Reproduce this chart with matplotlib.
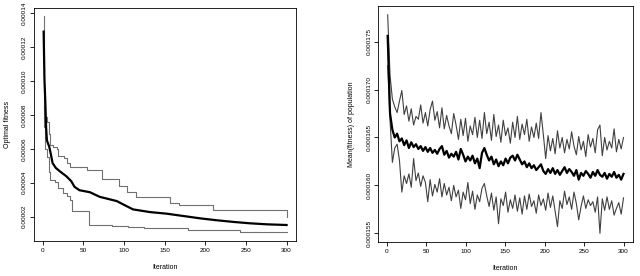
import numpy as np
import matplotlib
matplotlib.use('Agg')
import matplotlib.pyplot as plt

plt.rcParams['font.family'] = ['Liberation Sans', 'DejaVu Sans']

# left panel: best fitness, step curves (iteration, value in 1e-5)
upper_it = [1, 2, 3, 5, 7, 9, 13, 17, 19, 26, 30, 34, 54, 73, 94, 103, 115, 156, 167, 210, 299, 300]
upper_val = [13.8, 8.3, 7.9, 7.6, 6.9, 6.2, 6.1, 6.0, 5.6, 5.43, 5.14, 4.94, 4.75, 4.2, 3.83,
             3.44, 3.15, 2.8, 2.66, 2.41, 2.41, 1.98]

mid_it = [1, 2, 3, 4, 5, 8, 10, 12, 16, 21, 29, 35, 39, 45, 58, 70, 91, 99, 111, 132, 152,
          173, 194, 214, 235, 255, 276, 300]
mid_val = [12.9, 10.1, 8.87, 7.3, 6.5, 6.1, 5.65, 5.16, 4.87, 4.67, 4.38, 4.09, 3.76, 3.56,
           3.44, 3.17, 2.92, 2.72, 2.43, 2.27, 2.18, 2.04, 1.90, 1.79, 1.69, 1.61, 1.55, 1.51]

lower_it = [1, 2, 3, 5, 7, 9, 15, 19, 25, 30, 34, 36, 57, 85, 105, 124, 179, 243, 300]
lower_val = [8.5, 7.3, 6.0, 5.5, 4.65, 4.16, 4.06, 3.68, 3.4, 3.19, 3.0, 2.35, 1.53, 1.48, 1.40,
             1.34, 1.20, 1.08, 1.08]

left_ticks = [2, 4, 6, 8, 10, 12, 14]

# right panel: mean fitness of population, every 3rd iteration (value in 1e-6)
r_upper = [177.8, 171.5, 169.0, 168.2, 167.6, 168.8, 169.9, 167.4, 168.3, 166.7, 168.0, 166.3,
           167.2, 166.9, 168.4, 166.5, 167.6, 166.2, 167.9, 168.8, 166.8, 167.7, 166.0, 168.1,
           165.9, 167.3, 166.2, 165.4, 167.5, 166.3, 164.8, 166.9, 165.2, 167.0, 164.6, 166.2,
           165.3, 167.1, 165.0, 166.8, 164.9, 167.6, 165.4, 166.6, 164.7, 167.4, 165.1, 166.3,
           164.5, 166.8, 165.2, 166.0, 164.4, 166.6, 165.0, 167.2, 164.8, 166.4, 165.3, 166.9,
           164.6, 166.1, 165.0, 166.5, 164.9, 167.6, 165.3, 162.8, 165.2, 163.6, 164.9, 163.3,
           165.7, 163.9, 165.0, 163.4, 164.8, 163.8, 165.6, 164.1, 163.2, 165.1, 163.7, 164.6,
           163.0, 165.3, 164.0, 164.9, 163.4, 165.8, 166.3, 163.1, 165.0, 163.7, 164.6, 163.9,
           165.9, 163.5, 164.8, 163.8, 165.0]
r_mid = [175.6, 167.5, 165.8, 165.0, 165.4, 164.6, 164.9, 164.2, 164.7, 163.9, 164.5, 164.0,
         164.3, 163.8, 164.1, 163.6, 164.0, 163.5, 163.9, 163.4, 163.7, 163.3, 163.8, 164.1,
         163.2, 163.6, 162.9, 163.3, 163.0, 163.5, 162.7, 163.8, 163.2, 162.5, 163.0, 162.6,
         163.1, 162.3, 162.8, 161.8, 163.4, 163.9, 163.2, 162.6, 163.0, 162.2, 162.7, 162.0,
         162.5, 162.1, 162.8, 162.3, 162.9, 163.1, 162.6, 163.2, 162.7, 162.2, 162.5, 161.9,
         162.3, 161.8, 162.1, 161.6, 161.9, 162.2, 161.5, 161.2, 161.7, 161.3, 161.8, 161.2,
         161.6, 161.1, 161.5, 161.9, 161.3, 161.7, 161.4, 161.0, 161.6, 160.6, 161.3, 161.0,
         161.5, 161.2, 160.8, 161.4, 161.0, 161.6, 161.1, 160.9, 161.3, 160.7, 161.2, 160.9,
         161.4, 160.8, 161.1, 160.6, 161.2]
r_lower = [172.5, 166.8, 162.4, 163.9, 164.3, 162.6, 159.3, 161.0, 160.2, 161.2, 159.8, 162.8,
           160.5, 161.3, 159.9, 161.0, 160.3, 158.3, 160.6, 158.9, 160.1, 159.3, 160.7, 158.8,
           160.2, 159.0, 159.8, 158.4, 160.0, 158.8, 159.5, 157.6, 159.3, 158.5, 160.3, 158.1,
           159.4, 157.5, 159.0, 158.3, 159.7, 160.2, 158.9, 157.8, 159.2, 157.4, 158.8, 156.0,
           158.6, 157.9, 159.3, 157.2, 158.5, 157.6, 159.0, 157.3, 158.7, 157.0, 158.9, 157.5,
           159.1, 157.8, 158.4, 157.1, 159.0, 157.9, 158.6, 157.4, 159.2, 157.7, 158.9, 157.3,
           155.7, 158.4, 157.6, 159.4, 158.0, 158.8, 157.5, 159.3, 158.1, 156.4, 157.8, 158.9,
           157.6, 158.5, 157.9, 158.3, 157.2, 158.8, 155.0, 158.6, 157.4, 158.8, 157.5, 158.4,
           156.9, 157.6, 158.2, 157.0, 158.7]

right_ticks = [155, 160, 165, 170, 175]
x_ticks = [0, 50, 100, 150, 200, 250, 300]

fig = plt.figure(figsize=(6.4, 2.76), dpi=100)
ax1 = fig.add_axes([0.053, 0.127, 0.41, 0.845])
ax2 = fig.add_axes([0.591, 0.123, 0.398, 0.855])

ax1.plot(upper_it, np.array(upper_val) * 1e-5, color='#707070', lw=0.8, drawstyle='steps-post')
ax1.plot(lower_it, np.array(lower_val) * 1e-5, color='#707070', lw=0.8, drawstyle='steps-post')
ax1.plot(mid_it, np.array(mid_val) * 1e-5, color='black', lw=1.6)

it_r = np.linspace(1, 300, len(r_mid))
ax2.plot(it_r, np.array(r_upper) * 1e-6, color='#404040', lw=0.8)
ax2.plot(it_r, np.array(r_lower) * 1e-6, color='#404040', lw=0.8)
ax2.plot(it_r, np.array(r_mid) * 1e-6, color='black', lw=1.6)

ax1.set_yticks([t * 1e-5 for t in left_ticks])
ax1.set_yticklabels(['%.5f' % (t * 1e-5) for t in left_ticks])
ax2.set_yticks([t * 1e-6 for t in right_ticks])
ax2.set_yticklabels(['%.6f' % (t * 1e-6) for t in right_ticks])

for ax, ylab in [(ax1, 'Optimal fitness'), (ax2, 'Mean(fitness) of population')]:
    ax.margins(x=0.04, y=0.04)
    ax.set_xticks(x_ticks)
    ax.tick_params(direction='out', length=3, width=0.6, labelsize=4.6, pad=2)
    ax.tick_params(axis='y', labelrotation=90)
    for lab in ax.get_yticklabels():
        lab.set_va('center')
    ax.set_xlabel('Iteration', fontsize=5, labelpad=8)
    ax.set_ylabel(ylab, fontsize=5, labelpad=8)
    for s in ax.spines.values():
        s.set_linewidth(0.6)

fig.savefig('out.png', dpi=100)
